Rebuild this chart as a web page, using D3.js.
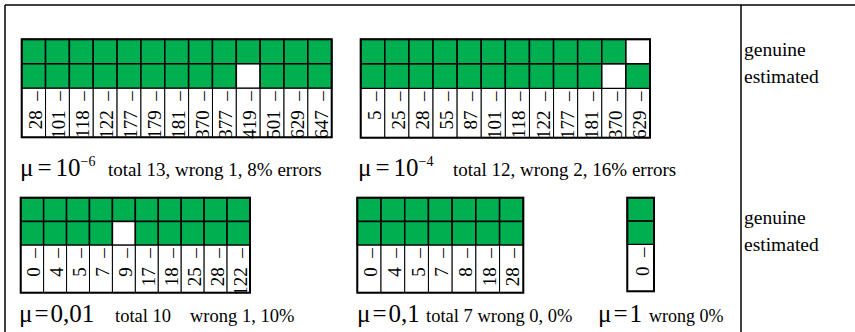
<!DOCTYPE html>
<html>
<head>
<meta charset="utf-8">
<script src="https://cdn.jsdelivr.net/npm/d3@7"></script>
<style>
    body { margin: 0; background: #fff; }
</style>
</head>
<body>
<div id="chart"></div>
<script>
// data: one set of arrays per panel (1 = green, 0 = white)
var labels_1 = [28, 101, 118, 122, 177, 179, 181, 370, 377, 419, 501, 629, 647],
    genuine_1 = [1, 1, 1, 1, 1, 1, 1, 1, 1, 1, 1, 1, 1],
    estimated_1 = [1, 1, 1, 1, 1, 1, 1, 1, 1, 0, 1, 1, 1];

var labels_2 = [5, 25, 28, 55, 87, 101, 118, 122, 177, 181, 370, 629],
    genuine_2 = [1, 1, 1, 1, 1, 1, 1, 1, 1, 1, 1, 0],
    estimated_2 = [1, 1, 1, 1, 1, 1, 1, 1, 1, 1, 0, 1];

var labels_3 = [0, 4, 5, 7, 9, 17, 18, 25, 28, 122],
    genuine_3 = [1, 1, 1, 1, 1, 1, 1, 1, 1, 1],
    estimated_3 = [1, 1, 1, 1, 0, 1, 1, 1, 1, 1];

var labels_4 = [0, 4, 5, 7, 8, 18, 28],
    genuine_4 = [1, 1, 1, 1, 1, 1, 1],
    estimated_4 = [1, 1, 1, 1, 1, 1, 1];

var labels_5 = [0],
    genuine_5 = [1],
    estimated_5 = [1];

var mu_values = ["10", "10", "0,01", "0,1", "1"],
    mu_exponents = ["\u22126", "\u22124", "", "", ""],
    captions = [
        ["total 13, wrong 1, 8% errors"],
        ["total 12, wrong 2, 16% errors"],
        ["total 10", "wrong 1, 10%"],
        ["total 7 wrong 0, 0%"],
        ["wrong 0%"]
    ],
    row_names = ["genuine", "estimated"];

var width = 855,
    height = 332,
    green = "#00b050",
    serif = "'Liberation Serif', 'Times New Roman', Times, serif";

// panel placement on the page
var layout = [
    {x0: 21.7, x1: 331.7, top: 39.3, unit: 24.5, muX: 20, muGap: 4, capX: [108], capY: 176, capSize: 19},
    {x0: 360.7, x1: 650, top: 39.3, unit: 24.6, muX: 358, muGap: 4, capX: [453], capY: 176, capSize: 19},
    {x0: 20.7, x1: 250, top: 197.7, unit: 23.75, muX: 19, muGap: 2, capX: [115, 190], capY: 322, capSize: 18.5},
    {x0: 357.3, x1: 523.3, top: 197.7, unit: 23.75, muX: 357, muGap: 2, capX: [426], capY: 322, capSize: 18.5},
    {x0: 627.3, x1: 654, top: 197.7, unit: 23.4, muX: 598, muGap: 2, capX: [649], capY: 322, capSize: 18}
];

var panels = [
    {labels: labels_1, rows: [genuine_1, estimated_1]},
    {labels: labels_2, rows: [genuine_2, estimated_2]},
    {labels: labels_3, rows: [genuine_3, estimated_3]},
    {labels: labels_4, rows: [genuine_4, estimated_4]},
    {labels: labels_5, rows: [genuine_5, estimated_5]}
];

var svg = d3.select("#chart").append("svg")
    .attr("width", width)
    .attr("height", height)
    .style("font-family", serif);

// outer frame
svg.append("line").attr("x1", 5).attr("x2", width).attr("y1", 5).attr("y2", 5)
    .attr("stroke", "#000").attr("stroke-width", 1.5);
svg.append("line").attr("x1", 5).attr("x2", 5).attr("y1", 5).attr("y2", height)
    .attr("stroke", "#000").attr("stroke-width", 1.5);
svg.append("line").attr("x1", 741).attr("x2", 741).attr("y1", 5).attr("y2", height)
    .attr("stroke", "#000").attr("stroke-width", 1.5);

panels.forEach(function (p, i) {
    var L = layout[i];

    var x = d3.scaleBand()
        .domain(d3.range(p.labels.length))
        .range([L.x0, L.x1]);

    // rows in units: genuine 0-1, estimated 1-2, labels 2-4
    var y = d3.scaleLinear()
        .domain([0, 4])
        .range([L.top, L.top + 4 * L.unit]);

    var g = svg.append("g").attr("class", "panel");

    p.rows.forEach(function (row, r) {
        g.selectAll(".cell" + r)
            .data(row)
            .enter().append("rect")
            .attr("class", "cell" + r)
            .attr("x", function (d, j) { return x(j); })
            .attr("y", y(r))
            .attr("width", x.bandwidth())
            .attr("height", y(r + 1) - y(r))
            .attr("fill", function (d) { return d ? green : "#fff"; })
            .attr("stroke", "#000")
            .attr("stroke-width", 1.5);
    });

    g.selectAll(".labcell")
        .data(p.labels)
        .enter().append("rect")
        .attr("class", "labcell")
        .attr("x", function (d, j) { return x(j); })
        .attr("y", y(2))
        .attr("width", x.bandwidth())
        .attr("height", y(4) - y(2))
        .attr("fill", "#fff")
        .attr("stroke", "#000")
        .attr("stroke-width", 1);

    g.selectAll(".lab")
        .data(p.labels)
        .enter().append("text")
        .attr("class", "lab")
        .attr("transform", function (d, j) {
            return "translate(" + (x(j) + x.bandwidth() / 2 + 8) + "," + (y(2) + 3) + ") rotate(-90)";
        })
        .style("text-anchor", "end")
        .style("font-family", serif)
        .style("font-size", "19px")
        .text(function (d) { return d + "\u2002\u2013"; });

    // thicker frame round the whole grid
    g.append("rect")
        .attr("x", L.x0)
        .attr("y", y(0))
        .attr("width", L.x1 - L.x0)
        .attr("height", y(4) - y(0))
        .attr("fill", "none")
        .attr("stroke", "#000")
        .attr("stroke-width", 2);

    // caption: mu = value (with exponent)
    var mu = g.append("text")
        .attr("x", L.muX)
        .attr("y", L.capY)
        .style("font-family", serif)
        .style("font-size", "25px");
    mu.append("tspan").text("\u03bc");
    mu.append("tspan").attr("dx", L.muGap).text("=");
    mu.append("tspan").attr("dx", L.muGap).text(mu_values[i]);
    if (mu_exponents[i]) {
        mu.append("tspan")
            .attr("dy", -10)
            .style("font-size", "14px")
            .text(mu_exponents[i]);
    }

    captions[i].forEach(function (c, k) {
        g.append("text")
            .attr("x", L.capX[k])
            .attr("y", L.capY)
            .style("font-family", serif)
            .style("font-size", L.capSize + "px")
            .text(c);
    });
});

// row names on the right
[[56, 83], [224, 251]].forEach(function (ys) {
    row_names.forEach(function (name, r) {
        svg.append("text")
            .attr("x", 744)
            .attr("y", ys[r])
            .style("font-family", serif)
            .style("font-size", "19.5px")
            .text(name);
    });
});
</script>
</body>
</html>
